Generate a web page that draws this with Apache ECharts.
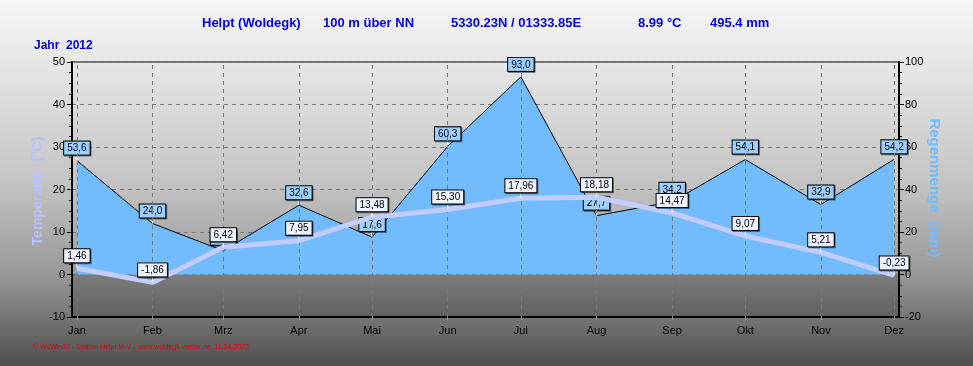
<!DOCTYPE html>
<html>
<head>
<meta charset="utf-8">
<script src="https://cdn.jsdelivr.net/npm/echarts@6/dist/echarts.min.js"></script>
<style>
html,body{margin:0;padding:0;background:#fff;}
#chart{width:973px;height:366px;}
</style>
</head>
<body>
<div id="chart"></div>
<script>
// ---- data ----
var months = ['Jan','Feb','Mrz','Apr','Mai','Jun','Jul','Aug','Sep','Okt','Nov','Dez'];
var monthStartDay = [0,31,60,91,121,152,182,213,244,274,305,335]; // day of year 2012 (1st of month)
var rain = [53.6,24.0,11.2,32.6,17.6,60.3,93.0,27.7,34.2,54.1,32.9,54.2];
var temp = [1.46,-1.86,6.42,7.95,13.48,15.30,17.96,18.18,14.47,9.07,5.21,-0.23];
var tempTicks = [-10,0,10,20,30,40,50];
var rainTicks = [-20,0,20,40,60,80,100];
var titleParts = ['Helpt (Woldegk)','100 m über NN','5330.23N / 01333.85E','8.99 °C','495.4 mm'];
var yearText = 'Jahr  2012';
var footerText = '© WsWin32 - Station Helpt M-V - www.woldegk-wetter.de  11.04.2022';
var leftName = 'Temperatur  (°C)';
var rightName = 'Regenmenge  (mm)';

var titleX = [202,323,451,638,710];

function pairs(vals){ return vals.map(function(v,i){ return [monthStartDay[i], v]; }); }
function fmt(v, d){ return v.toFixed(d).replace('.', ','); }

var chart = echarts.init(document.getElementById('chart'));

var graphics = [
  { type:'rect', z:-10, silent:true, shape:{x:0,y:0,width:973,height:366},
    style:{ fill: new echarts.graphic.LinearGradient(0,0,0,1,[
      {offset:0,color:'#f7f7f7'},{offset:0.2,color:'#e4e4e4'},{offset:0.5,color:'#c4c4c4'},
      {offset:0.75,color:'#989898'},{offset:1,color:'#4e4e4e'}]) } }
];
titleParts.forEach(function(t,i){
  graphics.push({type:'text', left:titleX[i], top:17, style:{text:t, fill:'#0000ee', font:'bold 13px "Liberation Sans", Arial, sans-serif'}});
});
graphics.push({type:'text', left:34, top:40, style:{text:yearText, fill:'#0000ee', font:'bold 12px "Liberation Sans", Arial, sans-serif'}});
graphics.push({type:'text', left:33, top:344, style:{text:footerText, fill:'#ee0000', font:'7px "Liberation Sans", Arial, sans-serif'}});
graphics.push({type:'text', x:38, y:191, rotation:Math.PI/2,
  style:{text:leftName, fill:'#b4c2ff', font:'bold 14px "Liberation Sans", Arial, sans-serif', align:'center', verticalAlign:'middle'}});
graphics.push({type:'text', x:934, y:188, rotation:-Math.PI/2,
  style:{text:rightName, fill:'#72bcff', font:'bold 15px "Liberation Sans", Arial, sans-serif', align:'center', verticalAlign:'middle'}});

var labelBase = {
  show:true, position:'top', distance:0, fontSize:10, color:'#000',
  fontFamily:'"Liberation Sans", Arial, sans-serif',
  borderColor:'#000', borderWidth:1, padding:[2,3,1,3],
  shadowColor:'rgba(0,0,0,0.45)', shadowOffsetX:1, shadowOffsetY:1, shadowBlur:0
};

var option = {
  animation:false,
  graphic: graphics,
  grid:{ left:72, right:74, top:62, bottom:49, show:true, borderColor:'#000', borderWidth:1, backgroundColor:'transparent' },
  xAxis:{
    type:'value', min:-2, max:337,
    axisLine:{show:true, onZero:false, lineStyle:{color:'#000', width:2}},
    axisTick:{show:true, customValues:monthStartDay, length:3, lineStyle:{color:'#999'}},
    axisLabel:{show:true, customValues:monthStartDay, color:'#000', fontSize:11, margin:8,
      fontFamily:'"Liberation Sans", Arial, sans-serif',
      formatter:function(v){ var i = monthStartDay.indexOf(Math.round(v)); return i>=0 ? months[i] : ''; }},
    splitLine:{show:false}
  },
  yAxis:[
    { type:'value', min:tempTicks[0], max:tempTicks[tempTicks.length-1], interval:10, position:'left',
      axisLine:{show:true, onZero:false, lineStyle:{color:'#000', width:2}},
      axisTick:{show:true, length:5, lineStyle:{color:'#000'}},
      minorTick:{show:true, splitNumber:4, length:3, lineStyle:{color:'#000'}},
      axisLabel:{color:'#000', fontSize:11, margin:7, fontFamily:'"Liberation Sans", Arial, sans-serif'},
      splitLine:{show:true, lineStyle:{color:'#7a7a7a', type:[4,4], width:1}}
    },
    { type:'value', min:rainTicks[0], max:rainTicks[rainTicks.length-1], interval:20, position:'right',
      axisLine:{show:true, onZero:false, lineStyle:{color:'#000', width:2}},
      axisTick:{show:true, length:5, lineStyle:{color:'#000'}},
      minorTick:{show:true, splitNumber:4, length:3, lineStyle:{color:'#000'}},
      axisLabel:{color:'#000', fontSize:11, margin:6, fontFamily:'"Liberation Sans", Arial, sans-serif'},
      splitLine:{show:false}
    }
  ],
  series:[
    { // background helpers: month grid lines, dark band below zero
      type:'line', data:[], z:1, silent:true, yAxisIndex:0,
      markLine:{ silent:true, symbol:'none', label:{show:false},
        lineStyle:{color:'#7a7a7a', type:[4,4], width:1},
        data: monthStartDay.map(function(d){ return {xAxis:d}; }) },
      markArea:{ silent:true, itemStyle:{color:'rgba(0,0,0,0.18)'},
        data:[[{yAxis:0},{yAxis:tempTicks[0]}]] }
    },
    { name:'Regenmenge', type:'line', yAxisIndex:1, z:3, data:pairs(rain),
      symbol:'none', lineStyle:{color:'#000', width:1},
      areaStyle:{color:'#72bcfd', opacity:1}
    },
    { type:'scatter', yAxisIndex:1, z:4, data:pairs(rain), symbol:'rect', symbolSize:[1,6], symbolOffset:[0,-3],
      itemStyle:{color:'#ffffff', opacity:1}, silent:true,
      label:Object.assign({}, labelBase, {backgroundColor:'#9ccfff', formatter:function(p){ return fmt(p.value[1],1); }}) },
    { name:'Temperatur', type:'line', yAxisIndex:0, z:5, data:pairs(temp),
      symbol:'none', lineStyle:{color:'#c3ccff', width:5}
    },
    { type:'scatter', yAxisIndex:0, z:6, data:pairs(temp), symbol:'rect', symbolSize:[1,6], symbolOffset:[0,-3],
      itemStyle:{color:'#ffffff', opacity:1}, silent:true,
      label:Object.assign({}, labelBase, {backgroundColor:'#eef3ff', formatter:function(p){ return fmt(p.value[1],2); }}) }
  ]
};
chart.setOption(option);
</script>
</body>
</html>
